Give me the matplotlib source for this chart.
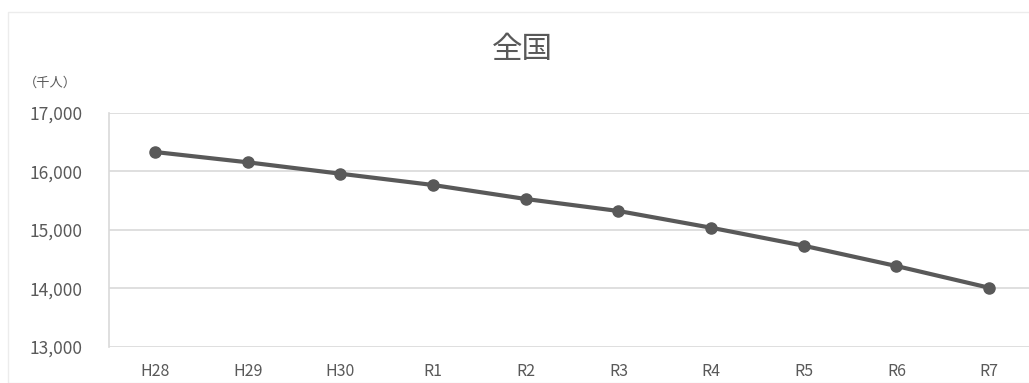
import matplotlib.pyplot as plt
from matplotlib.patches import Rectangle
from matplotlib.ticker import FuncFormatter

plt.rcParams['font.family'] = ['Noto Sans CJK JP', 'DejaVu Sans']

# 年度ごとの人口（千人）
years = ['H28', 'H29', 'H30', 'R1', 'R2', 'R3', 'R4', 'R5', 'R6', 'R7']
population = [16328, 16152, 15957, 15764, 15525, 15320, 15034, 14726, 14379, 14008]
yticks = [13000, 14000, 15000, 16000, 17000]

grey = '#595959'

fig = plt.figure(figsize=(10.29, 3.83), dpi=100)
fig.patches.append(Rectangle((8 / 1029, 0), 1.2, 1 - 12 / 383, transform=fig.transFigure,
                             fill=False, edgecolor='#ececec', linewidth=1))

ax = fig.add_axes([108.7 / 1029, 36.3 / 383, 926.7 / 1029, 234 / 383])
x = list(range(len(years)))
ax.plot(x, population, color=grey, linewidth=3, marker='o', markersize=8, zorder=3)

ax.set_xlim(-0.5, len(years) - 0.5)
ax.set_ylim(13000, 17000)
ax.set_xticks(x)
ax.set_xticklabels(years)
ax.set_yticks(yticks)
ax.yaxis.set_major_formatter(FuncFormatter(lambda v, p: f'{int(v):,}'))
ax.grid(axis='y', color='#d9d9d9', linewidth=1.2)
ax.set_axisbelow(True)

for s in ['top', 'right', 'bottom']:
    ax.spines[s].set_visible(False)
ax.spines['left'].set_color('#d9d9d9')
ax.spines['left'].set_linewidth(1.2)

ax.tick_params(axis='both', length=0, colors=grey)
ax.tick_params(axis='y', pad=19, labelsize=12.5)
ax.tick_params(axis='x', pad=12, labelsize=11.5)

fig.text(522 / 1029, 1 - 50 / 383, '全国', ha='center', va='center', fontsize=22, color=grey)
fig.text(50 / 1029, 1 - 83 / 383, '（千人）', ha='center', va='center', fontsize=9.5, color=grey)

fig.savefig('out.png', dpi=100)
